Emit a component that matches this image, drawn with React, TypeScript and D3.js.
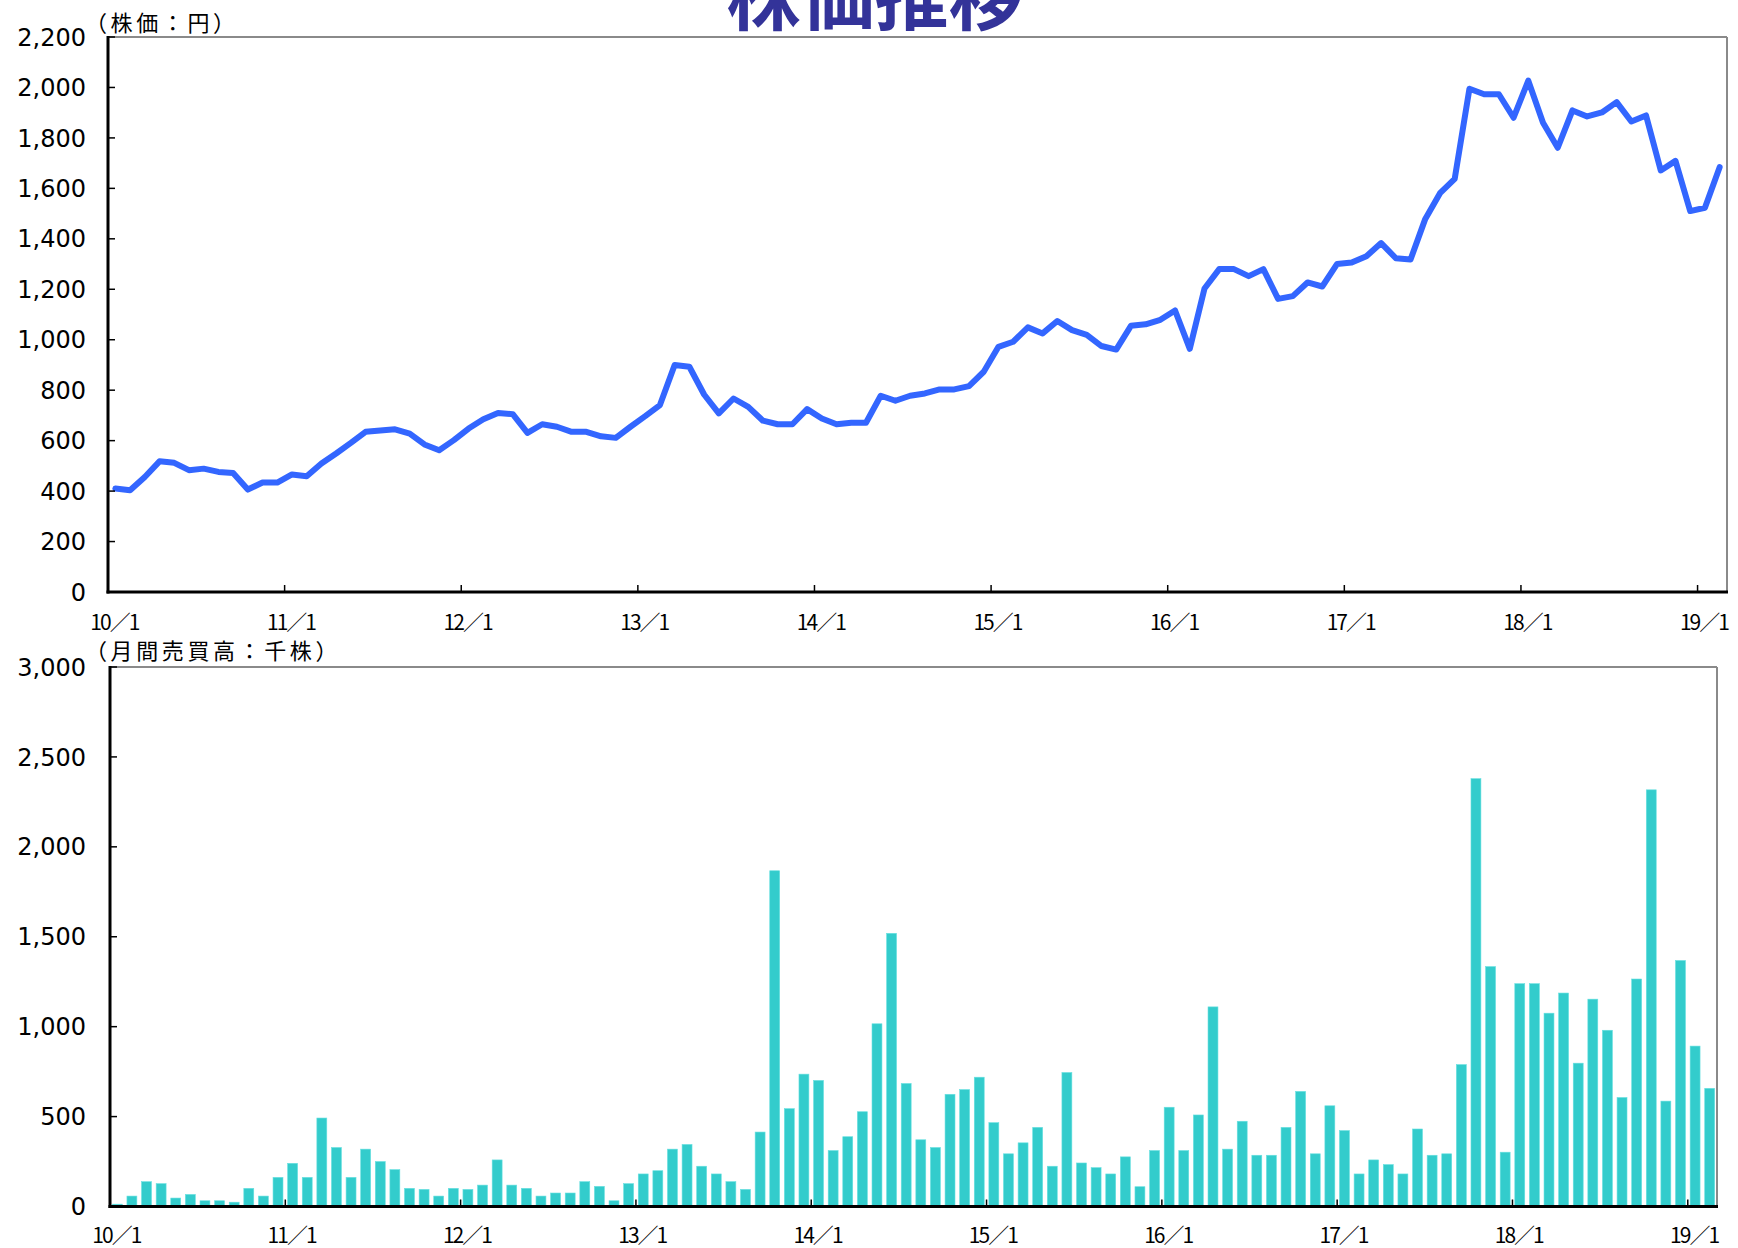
import React from 'react';
import * as d3 from 'd3';

// monthly data, 2010/1 .. 2019/2
const years = [10, 11, 12, 13, 14, 15, 16, 17, 18, 19];
const months: string[] = [];
years.forEach(y => {
  for (let m = 1; m <= 12; m++) {
    if (y === 19 && m > 2) break;
    months.push(`${y}/${m}`);
  }
});

// 株価 (円)
const price = [
  410, 403, 456, 518, 512, 483, 489, 476, 472, 406, 434, 434,
  466, 459, 509, 549, 591, 635, 640, 645, 628, 585, 562, 602,
  648, 685, 710, 705, 631, 665, 655, 635, 635, 617, 611, 655,
  697, 741, 900, 893, 783, 708, 767, 734, 679, 665, 665, 725,
  688, 665, 671, 671, 778, 758, 778, 787, 803, 803, 816, 873,
  972, 992, 1049, 1025, 1074, 1038, 1019, 975, 961, 1055, 1061, 1079,
  1116, 964, 1203, 1280, 1280, 1252, 1280, 1162, 1173, 1227, 1211, 1300,
  1306, 1331, 1383, 1323, 1318, 1479, 1581, 1638, 1995, 1973, 1973, 1880,
  2027, 1860, 1761, 1909, 1885, 1901, 1942, 1865, 1889, 1671, 1709, 1510,
  1523, 1684,
];

// 月間売買高 (千株)
const volume = [
  13, 58, 138, 127, 47, 67, 32, 32, 24, 101, 58, 162,
  240, 162, 492, 328, 162, 319, 250, 205, 101, 95, 58, 101,
  95, 119, 259, 119, 101, 58, 75, 75, 138, 112, 32, 127,
  181, 199, 319, 345, 224, 181, 138, 95, 414, 1867, 544, 736,
  701, 311, 388, 527, 1016, 1519, 684, 371, 328, 624, 650, 719,
  466, 293, 354, 440, 224, 745, 242, 216, 181, 276, 110, 311,
  552, 311, 509, 1110, 319, 474, 285, 285, 440, 640, 293, 560,
  422, 181, 259, 233, 181, 431, 285, 293, 789, 2379, 1334, 302,
  1239, 1239, 1075, 1187, 797, 1153, 980, 606, 1265, 2317, 586, 1368,
  892, 657,
];

const priceTicks = d3.range(0, 2201, 200);
const volumeTicks = d3.range(0, 3001, 500);
const yearLabels = years.map(y => `${y}／1`);

const fmt = d3.format(',');
const tickFont = '"DejaVu Sans", sans-serif';
const jpFont = '"Noto Sans CJK JP", sans-serif';

function Panel({ left, right, top, bottom, max, ticks, children, labelBaseline, unitLabel, unitY, xScale }: any) {
  const y = d3.scaleLinear().domain([0, max]).range([bottom, top]);
  const step = xScale.step();
  return (
    <g>
      {children(y)}
      {/* frame */}
      <line x1={left} x2={right} y1={top} y2={top} stroke="#8a8a8a" strokeWidth={2} />
      <line x1={right} x2={right} y1={top} y2={bottom} stroke="#8a8a8a" strokeWidth={2} />
      <line x1={left} x2={left} y1={top - 1} y2={bottom + 1.5} stroke="#000" strokeWidth={3} />
      <line x1={left - 1.5} x2={right + 1} y1={bottom} y2={bottom} stroke="#000" strokeWidth={3} />
      {ticks.map((t: number) => (
        <g key={t}>
          <line x1={left} x2={left + 7} y1={y(t)} y2={y(t)} stroke="#000" strokeWidth={1.5} />
          <text x={86} y={y(t)} dy="0.36em" textAnchor="end" fontFamily={tickFont} fontSize={24} fill="#000">
            {fmt(t)}
          </text>
        </g>
      ))}
      {yearLabels.map((lab, k) => {
        const bx = left + k * 12 * step;
        return (
          <g key={lab}>
            {k > 0 && <line x1={bx} x2={bx} y1={bottom} y2={bottom - 7} stroke="#000" strokeWidth={1.5} />}
            <text x={bx + step / 2} y={labelBaseline} textAnchor="middle" fontFamily={jpFont} fontSize={21}
              textLength={50} lengthAdjust="spacing" fill="#000">
              {lab}
            </text>
          </g>
        );
      })}
      <text x={85} y={unitY} fontFamily={jpFont} fontSize={22} letterSpacing={3.6} fill="#000">{unitLabel}</text>
    </g>
  );
}

export default function App() {
  const W = 1738, H = 1248;

  // top: price line
  const t = { left: 108, right: 1727, top: 37, bottom: 592 };
  const x1 = d3.scaleBand<string>().domain(months).range([t.left, t.right]).padding(0);

  // bottom: volume bars
  const b = { left: 110, right: 1717, top: 667, bottom: 1206.5 };
  const x2 = d3.scaleBand<string>().domain(months).range([b.left, b.right]).paddingInner(0.32).paddingOuter(0.16);

  return (
    <div style={{ position: 'absolute', left: 0, top: 0, background: '#fff' }}>
      <svg width={W} height={H} style={{ display: 'block' }}>
        <rect width={W} height={H} fill="#fff" />
        <text x={874.5} y={24} textAnchor="middle" fontFamily={jpFont} fontWeight={700} fontSize={74} fill="#333399">
          株価推移
        </text>

        <Panel {...t} max={2200} ticks={priceTicks} xScale={x1} labelBaseline={630}
          unitLabel="（株価：円）" unitY={30.5}>
          {(y: any) => {
            const line = d3.line<number>()
              .x((_, i) => (x1(months[i]) as number) + x1.bandwidth() / 2)
              .y(v => y(v));
            return <path d={line(price) || ''} fill="none" stroke="#3366ff" strokeWidth={6}
              strokeLinejoin="round" strokeLinecap="round" />;
          }}
        </Panel>

        <Panel {...b} max={3000} ticks={volumeTicks} xScale={x2} labelBaseline={1243}
          unitLabel="（月間売買高：千株）" unitY={658.5}>
          {(y: any) => (
            <g>
              {volume.map((v, i) => (
                <rect key={i} x={x2(months[i])} y={y(v)} width={x2.bandwidth()} height={b.bottom - y(v)}
                  fill="#33cccc" stroke="#66e0e0" strokeWidth={0.6} />
              ))}
            </g>
          )}
        </Panel>
      </svg>
    </div>
  );
}
